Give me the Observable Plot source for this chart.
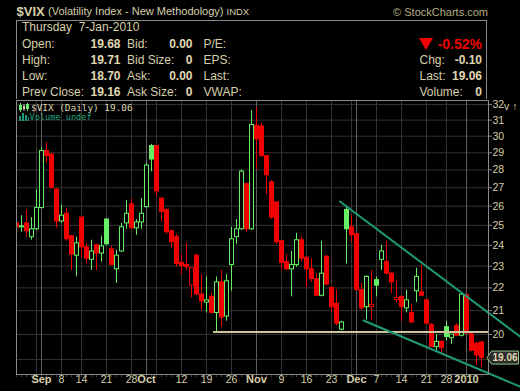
<!DOCTYPE html>
<html><head><meta charset="utf-8">
<script src="https://cdn.jsdelivr.net/npm/d3@7"></script>
<script src="https://cdn.jsdelivr.net/npm/@observablehq/plot@0.6"></script>
<style>
html,body{margin:0;padding:0;background:#000;}
#wrap{position:relative;width:520px;height:391px;background:#000;overflow:hidden;font-family:"Liberation Sans",Arial,sans-serif;color:#d6cfa8;}
.t{position:absolute;white-space:nowrap;}
#box{position:absolute;left:16px;top:20px;width:471px;height:80px;border:1px solid #8a8a8a;border-bottom:none;box-sizing:border-box;}
#chart{position:absolute;left:0;top:99px;}
</style></head>
<body><div id="wrap"><div id="box"></div><div id="chart"></div></div>
<script>
// ---- data ----
const priorClose = 25.0;
const monthDays = {
  "2009-08": [25,26,27,28,31],
  "2009-09": [1,2,3,4,8,9,10,11,14,15,16,17,18,21,22,23,24,25,28,29,30],
  "2009-10": [1,2,5,6,7,8,9,12,13,14,15,16,19,20,21,22,23,26,27,28,29,30],
  "2009-11": [2,3,4,5,6,9,10,11,12,13,16,17,18,19,20,23,24,25,27,30],
  "2009-12": [1,2,3,4,7,8,9,10,11,14,15,16,17,18,21,22,23,24,28,29,30,31],
  "2010-01": [4,5,6,7]
};
const open = [25.1,24.9,25.1,24.4,24.8,
  25.9,29.1,28.9,26.9,25.2,25.6,24.45,23.5,25.4,23.9,23.3,24.0,23.6,25.3,23.8,22.85,23.7,25.1,26.1,24.85,25.15,
  25.95,29.4,29.4,26.4,25.8,24.7,24.4,23.15,23.05,22.1,23.5,21.7,21.35,21.6,20.9,22.25,20.75,23.05,24.4,24.8,27.2,24.8,
  30.65,30.6,28.8,27.3,26.2,24.2,23.2,22.85,23.05,24.25,23.4,22.85,22.4,21.65,23.45,22.0,21.3,20.2,25.8,24.9,
  24.55,21.9,21.15,21.15,22.35,23.3,23.2,22.65,21.45,21.6,21.1,20.9,21.85,21.8,21.45,20.4,19.5,19.7,20.3,19.85,20.35,19.95,
  21.68,20.0,19.63,19.68];
const high = [25.2,25.5,25.8,25.4,26.9,
  29.3,29.6,28.95,26.95,26.05,25.9,24.5,24.4,25.45,24.1,24.25,24.05,24.45,25.35,23.95,23.75,25.1,26.3,26.4,25.3,26.4,
  28.4,29.5,29.45,26.45,25.85,24.75,24.55,23.55,24.1,22.9,23.55,22.6,22.5,21.75,22.5,22.8,22.6,24.9,25.3,28.0,27.25,31.6,
  31.8,30.8,28.85,27.4,26.25,24.25,23.55,23.7,24.6,24.45,23.45,23.35,22.65,24.2,23.5,22.05,21.9,20.55,25.95,25.5,
  24.6,22.2,22.55,22.8,22.5,24.0,24.2,22.7,22.35,21.65,21.9,21.25,22.9,23.05,21.5,20.45,20.0,19.75,20.55,20.0,20.45,21.75,
  21.7,20.1,19.68,19.71];
const low = [24.8,24.65,24.4,24.25,24.75,
  25.85,28.4,26.9,24.85,25.1,24.2,22.8,22.5,23.4,23.1,22.8,22.8,23.2,24.0,23.05,22.2,23.65,24.8,24.8,24.5,24.8,
  25.9,27.9,26.5,25.2,24.55,23.85,22.95,22.6,22.8,21.55,21.7,21.0,20.9,20.9,20.1,20.3,20.55,21.85,24.05,24.75,24.65,24.75,
  28.0,28.75,26.6,25.3,24.05,22.8,22.8,21.6,22.95,23.2,22.0,22.25,21.65,21.6,22.1,20.9,20.35,20.15,23.1,24.15,
  21.85,21.0,20.6,20.6,21.6,22.8,22.6,21.75,21.35,20.55,20.9,20.45,21.35,21.65,20.4,19.5,19.3,19.25,19.75,19.6,19.95,19.9,
  20.0,19.3,18.77,18.70];
const close = [24.9,24.95,24.7,24.8,25.9,
  29.1,28.8,27.0,25.2,25.5,24.3,23.55,24.1,23.9,23.35,23.7,23.6,23.95,24.05,23.05,23.5,24.9,25.6,24.85,25.15,25.6,
  28.25,28.6,26.8,25.7,24.65,24.15,23.1,23.0,22.95,22.9,21.7,21.4,21.45,20.9,22.25,20.7,22.3,24.3,24.8,27.9,24.8,30.7,
  29.8,28.8,27.7,25.4,24.15,23.15,22.85,23.05,24.25,23.35,22.85,22.4,21.65,22.65,22.15,21.15,20.45,20.5,24.8,24.5,
  21.9,21.1,22.5,21.25,22.1,23.7,22.65,22.25,21.55,21.15,21.45,20.5,22.5,21.65,20.45,19.5,19.7,19.45,19.9,20.0,19.95,21.7,
  20.04,19.35,19.16,19.06];

const yGrid = [19,20,21,22,23,24,25,26,27,28,29,30,31,32];
const yTickLabels = [20,21,22,23,24,25,26,27,28,29,30,31,32];
const xTickDates = ["2009-09-01","2009-09-08","2009-09-14","2009-09-21","2009-09-28","2009-10-01","2009-10-12","2009-10-19","2009-10-26","2009-11-02","2009-11-09","2009-11-16","2009-11-23","2009-12-01","2009-12-07","2009-12-14","2009-12-21","2009-12-28","2010-01-04"];
const xTickLabels = ["Sep","8","14","21","28","Oct","12","19","26","Nov","9","16","23","Dec","7","14","21","28","2010"];
const xTickMonth = [1,0,0,0,0,1,0,0,0,1,0,0,0,1,0,0,0,0,1];
const weekStarts = ["2009-08-31","2009-09-08","2009-09-14","2009-09-21","2009-09-28","2009-10-05","2009-10-12","2009-10-19","2009-10-26","2009-11-09","2009-11-16","2009-11-23","2009-11-30","2009-12-07","2009-12-14","2009-12-21","2009-12-28"];
const monthStarts = ["2009-09-01","2009-10-01","2009-11-02","2009-12-01","2010-01-04"];

// annotation lines (trading-day index, value)
const supportLine = {start: 39.4, level: 20.1};
const upperTrend = [{i: 64.7, v: 26.25}, {i: 100.7, v: 19.92}];
const lowerTrend = [{i: 69.4, v: 20.58}, {i: 100.7, v: 17.98}];

const header = {symbol: "$VIX", name: "(Volatility Index - New Methodology)", exch: "INDX", date: "Thursday\u00a0\u00a07-Jan-2010"};
const quoteRows = [
  ["Open:", "19.68", "Bid:", "0.00", "P/E:"],
  ["High:", "19.71", "Bid Size:", "0", "EPS:"],
  ["Low:", "18.70", "Ask:", "0.00", "Last:"],
  ["Prev Close:", "19.16", "Ask Size:", "0", "VWAP:"]
];
const pctChange = "-0.52%";
const rightRows = [["Chg:", "-0.10"], ["Last:", "19.06"], ["Volume:", "0"]];

// ---- build ----
const dates = [];
for (const [m, ds] of Object.entries(monthDays)) for (const d of ds) dates.push(m + "-" + String(d).padStart(2, "0"));
const idxOf = s => dates.indexOf(s);
const idx = d3.range(close.length);
const GREEN = "#66ee66", RED = "#f00000";
const col = i => close[i] >= (i === 0 ? priorClose : close[i - 1]) ? GREEN : RED;
const hollow = i => close[i] > open[i];
const last = close.length - 1;

const wrap = document.getElementById("wrap");
function T(txt, x, cy, fs, o = {}) {
  const d = document.createElement("div");
  d.className = "t"; d.textContent = txt;
  d.style.fontSize = fs + "px"; d.style.lineHeight = fs + "px";
  d.style.top = (cy - fs * 0.5) + "px";
  if (o.end) d.style.right = (520 - x) + "px"; else d.style.left = x + "px";
  if (o.bold) d.style.fontWeight = "bold";
  if (o.color) d.style.color = o.color;
  if (o.font) d.style.fontFamily = o.font;
  wrap.appendChild(d);
  return d;
}
const VAL = "#e0d8b2";
T(header.symbol, 16.5, 11.5, 13, {bold: true});
T(header.name, 48, 11.8, 11);
T(header.exch, 226.5, 12, 9.5);
T("\u00a9 StockCharts.com", 488, 12, 11, {end: true, color: "#b4ac80"});
T(header.date, 22, 27, 12);
quoteRows.forEach((r, k) => {
  const cy = 44 + k * 16;
  T(r[0], 22, cy, 12);
  T(r[1], 120.5, cy, 12, {bold: true, end: true, color: VAL});
  T(r[2], 127, cy, 12);
  T(r[3], 192.5, cy, 12, {bold: true, end: true, color: VAL});
  T(r[4], 203.5, cy, 12);
});
const tri = document.createElement("div");
tri.style.cssText = "position:absolute;left:419px;top:37.5px;width:0;height:0;border-left:7px solid transparent;border-right:7px solid transparent;border-top:12px solid #f00000;";
wrap.appendChild(tri);
T(pctChange, 482, 43.5, 14, {bold: true, end: true, color: "#f00000"});
rightRows.forEach((r, k) => {
  const cy = 60 + k * 16;
  T(r[0], 419.5, cy, 12);
  T(r[1], 482, cy, 12, {bold: true, end: true, color: VAL});
});

const chart = Plot.plot({
  width: 520, height: 292,
  marginTop: 1, marginBottom: 17, marginLeft: 16, marginRight: 32,
  style: {background: "#000", color: "#d6cfa8", fontFamily: "Liberation Sans, Arial, sans-serif", fontSize: "10.5px", overflow: "visible"},
  x: {type: "linear", domain: [0, 94.4], axis: null},
  y: {type: "log", domain: [18.43, 32.27], axis: null},
  color: {type: "identity"},
  marks: [
    Plot.ruleY(yGrid, {stroke: "#333"}),
    Plot.ruleX(weekStarts.map(idxOf), {stroke: "#333"}),
    Plot.ruleX(monthStarts.map(idxOf), {stroke: "#5e5e5e"}),
    Plot.ruleX(idx, {x: i => i, y1: i => low[i], y2: i => high[i], stroke: col, clip: true}),
    Plot.rect(idx, {x1: i => i - 0.4, x2: i => i + 0.4, y1: i => open[i], y2: i => close[i],
      insetLeft: 0.5, insetRight: -0.5,
      fill: i => hollow(i) ? "#000" : col(i), stroke: col, strokeWidth: 1, clip: true}),
    Plot.ruleY([supportLine.level], {x1: supportLine.start, x2: 94.4, stroke: "#cdc69e", strokeWidth: 2}),
    Plot.line(upperTrend, {x: "i", y: "v", stroke: "#1f9a78", strokeWidth: 2}),
    Plot.line(lowerTrend, {x: "i", y: "v", stroke: "#1f9a78", strokeWidth: 2}),
    Plot.frame({stroke: "#8a8a8a"}),
    Plot.axisY(yTickLabels, {anchor: "right", tickSize: 3, tickPadding: 1, fill: "#d6cfa8", stroke: "#888", tickFormat: d => String(d)}),
    Plot.dot(idx, {x: i => i, frameAnchor: "bottom", dy: 1.5, r: 0.6, fill: "#888", stroke: null}),
    Plot.text(xTickDates.map((d, k) => k).filter(k => !xTickMonth[k]), {x: k => idxOf(xTickDates[k]), text: k => xTickLabels[k], frameAnchor: "bottom", dy: 8.5, fill: "#d6cfa8", fontSize: 10.5}),
    Plot.text(xTickDates.map((d, k) => k).filter(k => xTickMonth[k]), {x: k => idxOf(xTickDates[k]), text: k => xTickLabels[k], frameAnchor: "bottom", dy: 8.5, fill: "#d6cfa8", fontSize: 11, fontWeight: "bold"})
  ]
});
chart.style.display = "block";
document.getElementById("chart").appendChild(chart);

// last value tag on the right axis, positioned by the plot's y scale
const ty = chart.scale("y").apply(close[last]);
const svg = d3.select(chart);
const g = svg.append("g");
g.append("path")
  .attr("d", `M487,${ty} L491.5,${ty - 6.5} L518.5,${ty - 6.5} L518.5,${ty + 6.5} L491.5,${ty + 6.5} Z`)
  .attr("fill", "#2c2c2c").attr("stroke", "#8cc88c").attr("stroke-width", 1);
g.append("text").attr("x", 505).attr("y", ty).attr("dy", "0.35em").attr("text-anchor", "middle")
  .attr("font-size", 10).attr("font-weight", "bold").attr("fill", "#e0d8b2").text(close[last].toFixed(2));

// legend
const lg = document.createElement("div");
lg.innerHTML = `<svg style="position:absolute;left:19px;top:103px" width="10" height="9">
<rect x="0.5" y="2.5" width="2" height="4" fill="none" stroke="#66ee66"/><line x1="1.5" y1="0" x2="1.5" y2="9" stroke="#66ee66"/>
<rect x="4" y="3" width="2" height="3" fill="#d6cfa8"/><line x1="5" y1="1" x2="5" y2="8" stroke="#d6cfa8"/>
<rect x="7.5" y="1.5" width="2" height="4" fill="none" stroke="#66ee66"/><line x1="8.5" y1="0" x2="8.5" y2="8" stroke="#66ee66"/></svg>
<svg style="position:absolute;left:19px;top:113px" width="10" height="8">
<rect x="0" y="3" width="2" height="5" fill="#1f9a78"/><rect x="3" y="0" width="2" height="8" fill="#1f9a78"/><rect x="6" y="2" width="2" height="6" fill="#1f9a78"/><rect x="9" y="4" width="1" height="4" fill="#1f9a78"/></svg>`;
wrap.appendChild(lg);
T("$VIX (Daily) " + close[last].toFixed(2), 31, 107.5, 9.4, {font: "DejaVu Sans Mono", color: "#ddd6ae"});
T("Volume undef", 29.5, 117.5, 8.6, {font: "DejaVu Sans Mono", color: "#22a47f"});
</script></body></html>
